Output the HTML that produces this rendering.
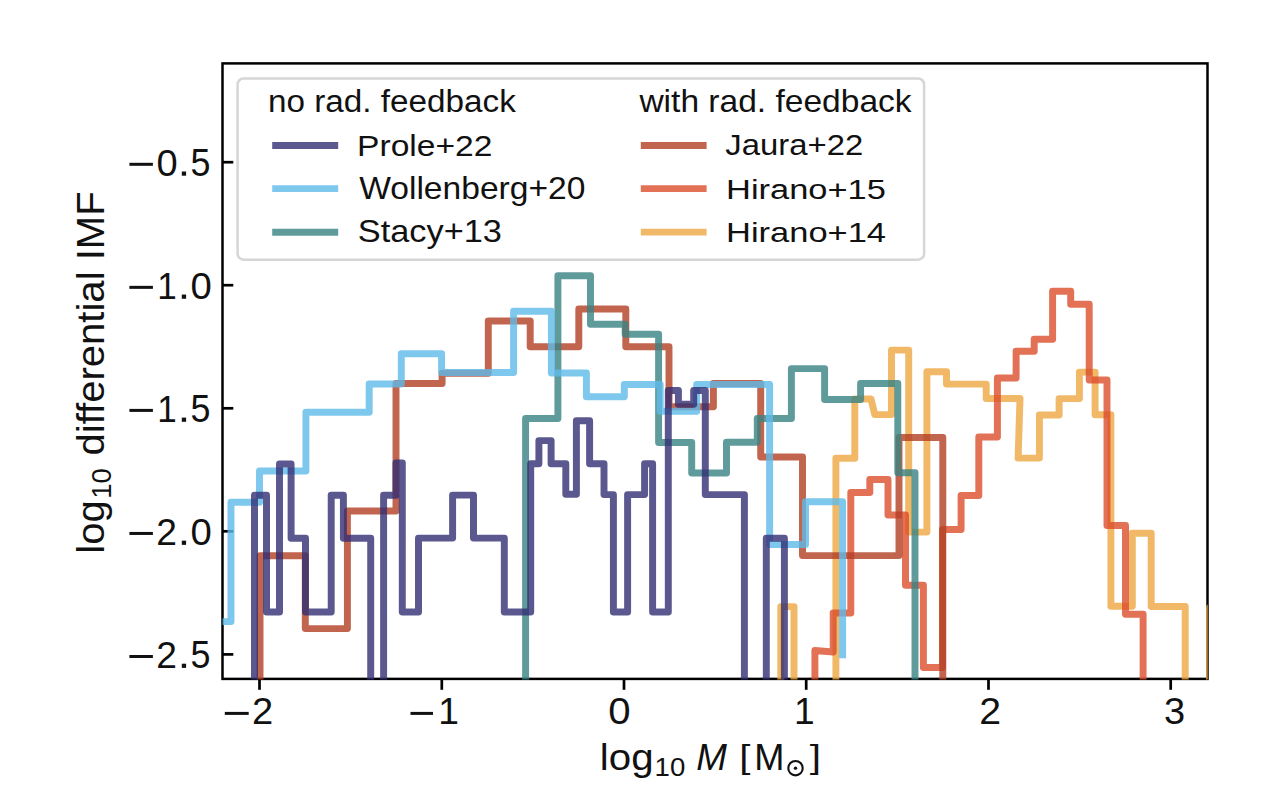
<!DOCTYPE html>
<html><head><meta charset="utf-8"><style>
html,body{margin:0;padding:0;background:#fff;}
svg{display:block;}
text{font-family:"Liberation Sans",sans-serif;fill:#111;}
</style></head><body>
<svg width="1276" height="812" viewBox="0 0 1276 812">
<defs><clipPath id="ax"><rect x="222.5" y="63.4" width="985.30" height="616.10"/></clipPath></defs>
<rect x="0" y="0" width="1276" height="812" fill="#fff"/>
<rect x="222.5" y="63.4" width="985.0" height="615.5" fill="none" stroke="#000" stroke-width="2.5"/>
<line x1="259.5" y1="678.9" x2="259.5" y2="689.8" stroke="#000" stroke-width="2.7"/>
<line x1="441.8" y1="678.9" x2="441.8" y2="689.8" stroke="#000" stroke-width="2.7"/>
<line x1="624.0" y1="678.9" x2="624.0" y2="689.8" stroke="#000" stroke-width="2.7"/>
<line x1="806.2" y1="678.9" x2="806.2" y2="689.8" stroke="#000" stroke-width="2.7"/>
<line x1="988.5" y1="678.9" x2="988.5" y2="689.8" stroke="#000" stroke-width="2.7"/>
<line x1="1170.7" y1="678.9" x2="1170.7" y2="689.8" stroke="#000" stroke-width="2.7"/>
<line x1="222.5" y1="162.2" x2="233.3" y2="162.2" stroke="#000" stroke-width="2.7"/>
<line x1="222.5" y1="285.2" x2="233.3" y2="285.2" stroke="#000" stroke-width="2.7"/>
<line x1="222.5" y1="408.3" x2="233.3" y2="408.3" stroke="#000" stroke-width="2.7"/>
<line x1="222.5" y1="531.3" x2="233.3" y2="531.3" stroke="#000" stroke-width="2.7"/>
<line x1="222.5" y1="654.4" x2="233.3" y2="654.4" stroke="#000" stroke-width="2.7"/>
<g clip-path="url(#ax)">
<path d="M780.8 700.0 L780.8 606.6 L794.0 606.6 L794.0 700.0 L835.9 700.0 L835.9 458.3 L854.8 458.3 L854.8 398.9 L871.0 398.9 L874.8 414.6 L891.5 414.6 L891.5 350.1 L908.7 350.1 L908.7 532.1 L926.9 532.1 L926.9 371.7 L946.5 371.7 L946.5 384.1 L986.2 384.1 L986.2 398.4 L1020.0 398.4 L1018.1 458.1 L1039.4 458.1 L1039.4 415.0 L1059.1 415.0 L1059.1 398.6 L1079.4 398.6 L1079.4 372.1 L1095.1 372.1 L1095.1 414.8 L1110.9 414.8 L1110.9 606.2 L1132.3 606.2 L1132.3 533.2 L1151.2 533.2 L1151.2 606.5 L1185.2 606.5 L1185.2 700.0 L1209.5 700.0 L1209.5 607.5 L1230.0 607.5" fill="none" stroke="#eea642" stroke-opacity="0.8" stroke-width="6.95" stroke-linejoin="round" stroke-linecap="butt"/>
<path d="M814.9 700.0 L814.9 650.5 L833.2 652.0 L833.2 613.0 L850.8 613.0 L850.8 492.4 L869.8 492.4 L869.8 479.5 L888.0 479.5 L888.0 515.0 L905.5 515.0 L905.5 585.2 L923.4 585.2 L923.4 667.4 L942.5 667.4 L942.5 529.4 L961.1 529.4 L961.1 495.5 L978.8 495.5 L978.8 436.9 L997.4 436.9 L997.4 378.0 L1016.1 378.0 L1016.1 351.3 L1034.2 351.3 L1034.2 339.3 L1052.6 339.3 L1052.6 291.2 L1070.7 291.2 L1070.7 304.2 L1089.2 304.2 L1089.2 380.0 L1107.0 380.0 L1107.0 525.5 L1125.5 525.5 L1125.5 614.3 L1143.1 614.3 L1143.1 700.0" fill="none" stroke="#dc4e2c" stroke-opacity="0.8" stroke-width="6.95" stroke-linejoin="round" stroke-linecap="butt"/>
<path d="M260.0 700.0 L260.0 555.7 L305.3 555.7 L305.3 628.6 L347.4 628.6 L347.4 510.9 L396.0 510.9 L396.0 383.5 L442.1 383.5 L442.1 373.3 L488.3 373.3 L488.3 320.9 L530.2 320.9 L530.2 346.8 L578.8 346.8 L578.8 308.9 L625.8 308.9 L625.8 346.8 L669.0 346.8 L669.0 406.8 L713.4 406.8 L713.4 383.5 L760.7 383.5 L760.7 457.0 L802.5 457.0 L802.5 555.6 L899.0 555.6 L899.0 437.5 L942.8 437.5 L942.8 700.0" fill="none" stroke="#b23f23" stroke-opacity="0.8" stroke-width="6.95" stroke-linejoin="round" stroke-linecap="butt"/>
<path d="M525.6 700.0 L525.6 418.5 L557.9 418.5 L557.9 275.7 L590.5 275.7 L590.5 324.2 L625.2 324.2 L625.2 334.2 L658.6 334.2 L658.6 442.4 L691.7 442.4 L691.7 473.0 L726.5 473.0 L726.5 442.2 L757.3 442.2 L757.3 418.5 L791.4 418.5 L791.4 368.6 L824.6 368.6 L824.6 399.4 L860.6 399.4 L860.6 383.4 L897.8 383.4 L897.8 472.8 L915.0 472.8 L915.0 700.0" fill="none" stroke="#388282" stroke-opacity="0.8" stroke-width="6.95" stroke-linejoin="round" stroke-linecap="butt"/>
<path d="M200.0 621.6 L231.0 621.6 L231.0 502.2 L259.5 502.2 L259.5 470.9 L305.9 470.9 L305.9 412.2 L369.2 412.2 L369.2 383.9 L401.3 383.9 L401.3 353.7 L441.6 353.7 L441.6 372.4 L513.6 372.4 L513.6 311.3 L551.4 311.3 L551.4 373.0 L586.4 373.0 L586.4 396.7 L624.3 396.7 L624.3 384.4 L660.2 384.4 L660.2 411.2 L696.7 411.2 L696.7 384.4 L769.6 384.4 L769.6 544.4 L805.5 544.4 L805.5 501.8 L842.6 501.8 L842.6 658.2" fill="none" stroke="#5ebaea" stroke-opacity="0.8" stroke-width="6.95" stroke-linejoin="round" stroke-linecap="butt"/>
<path d="M254.5 700.0 L254.5 495.2 L266.5 495.2 L266.5 612.0 L279.5 612.0 L279.5 463.9 L291.1 463.9 L291.1 538.3 L305.5 538.3 L305.5 612.0 L331.2 612.0 L331.2 495.2 L343.4 495.2 L343.4 538.3 L370.7 538.3 L370.7 700.0 L383.6 700.0 L383.6 495.2 L396.0 495.2 L396.0 463.0 L402.3 463.0 L402.3 612.0 L418.5 612.0 L418.5 538.1 L452.6 538.1 L452.6 495.1 L473.5 495.1 L473.5 538.1 L504.3 538.1 L504.3 612.0 L530.7 612.0 L530.7 463.7 L538.9 463.7 L538.9 440.6 L551.1 440.6 L551.1 463.7 L565.8 463.7 L565.8 494.2 L576.4 494.2 L576.4 420.7 L589.6 420.7 L589.6 463.7 L604.0 463.7 L604.0 494.6 L613.4 494.6 L613.4 612.0 L627.6 612.0 L627.6 494.6 L644.6 494.6 L644.6 463.7 L652.6 463.7 L652.6 612.0 L668.3 612.0 L668.3 390.5 L678.4 390.5 L678.4 404.3 L693.7 404.3 L693.7 390.5 L705.3 390.5 L705.3 494.6 L744.4 494.6 L744.4 700.0 L766.3 700.0 L766.3 538.3 L784.4 538.3 L784.4 700.0" fill="none" stroke="#322e73" stroke-opacity="0.8" stroke-width="6.95" stroke-linejoin="round" stroke-linecap="butt"/>
</g>
<rect x="237.6" y="78.5" width="686.5" height="181.2" rx="6" ry="6" fill="#fff" fill-opacity="0.8" stroke="#d6d6d6" stroke-width="2.5"/>
<line x1="272.2" y1="145.4" x2="338.2" y2="145.4" stroke="#322e73" stroke-opacity="0.8" stroke-width="6.95"/>
<line x1="272.2" y1="188.6" x2="338.2" y2="188.6" stroke="#5ebaea" stroke-opacity="0.8" stroke-width="6.95"/>
<line x1="272.2" y1="232.3" x2="338.2" y2="232.3" stroke="#388282" stroke-opacity="0.8" stroke-width="6.95"/>
<line x1="640.8" y1="145.4" x2="706.6" y2="145.4" stroke="#b23f23" stroke-opacity="0.8" stroke-width="6.95"/>
<line x1="640.8" y1="188.6" x2="706.6" y2="188.6" stroke="#dc4e2c" stroke-opacity="0.8" stroke-width="6.95"/>
<line x1="640.8" y1="232.1" x2="706.6" y2="232.1" stroke="#eea642" stroke-opacity="0.8" stroke-width="6.95"/>
<g transform="matrix(1.00290 0 0 0.98491 251.994 723.900)"><text x="0" y="0" font-size="38" >2</text></g>
<g transform="matrix(0.97846 0 0 0.98462 438.165 723.900)"><text x="0" y="0" font-size="38" >1</text></g>
<g transform="matrix(1.05753 0 0 0.98491 608.214 723.900)"><text x="0" y="0" font-size="38" >0</text></g>
<g transform="matrix(0.97846 0 0 0.98462 794.065 723.900)"><text x="0" y="0" font-size="38" >1</text></g>
<g transform="matrix(1.03188 0 0 0.98491 979.136 723.900)"><text x="0" y="0" font-size="38" >2</text></g>
<g transform="matrix(1.00000 0 0 0.98491 1164.000 723.900)"><text x="0" y="0" font-size="38" >3</text></g>
<g transform="matrix(1.00274 0 0 0.98868 156.596 175.700)"><text x="0" y="0" font-size="38" >0</text></g>
<g transform="matrix(0.94444 0 0 1.00769 190.483 175.700)"><text x="0" y="0" font-size="38" >5</text></g>
<g transform="matrix(0.92308 0 0 0.99231 157.231 298.750)"><text x="0" y="0" font-size="38" >1</text></g>
<g transform="matrix(1.00822 0 0 0.98868 190.388 298.750)"><text x="0" y="0" font-size="38" >0</text></g>
<g transform="matrix(0.92308 0 0 0.99231 157.231 421.800)"><text x="0" y="0" font-size="38" >1</text></g>
<g transform="matrix(0.94444 0 0 1.00769 190.483 421.800)"><text x="0" y="0" font-size="38" >5</text></g>
<g transform="matrix(0.97971 0 0 0.98868 156.141 544.850)"><text x="0" y="0" font-size="38" >2</text></g>
<g transform="matrix(1.00822 0 0 0.98868 190.388 544.850)"><text x="0" y="0" font-size="38" >0</text></g>
<g transform="matrix(0.97971 0 0 0.98868 156.141 667.900)"><text x="0" y="0" font-size="38" >2</text></g>
<g transform="matrix(0.94444 0 0 1.00769 190.483 667.900)"><text x="0" y="0" font-size="38" >5</text></g>
<g transform="matrix(1.07336 0 0 1.00889 268.053 112.200)"><text x="0" y="0" font-size="31" >no rad. feedback</text></g>
<g transform="matrix(1.08406 0 0 0.95556 357.090 156.300)"><text x="0" y="0" font-size="31" >Prole+22</text></g>
<g transform="matrix(1.08420 0 0 0.98667 359.129 199.100)"><text x="0" y="0" font-size="31" >Wollenberg+20</text></g>
<g transform="matrix(1.10884 0 0 1.00465 357.737 241.600)"><text x="0" y="0" font-size="31" >Stacy+13</text></g>
<g transform="matrix(1.08270 0 0 0.99111 639.400 111.700)"><text x="0" y="0" font-size="31" >with rad. feedback</text></g>
<g transform="matrix(1.06016 0 0 0.92558 725.370 155.200)"><text x="0" y="0" font-size="31" >Jaura+22</text></g>
<g transform="matrix(1.11143 0 0 0.88444 726.021 198.700)"><text x="0" y="0" font-size="31" >Hirano+15</text></g>
<g transform="matrix(1.11246 0 0 0.92000 726.019 241.800)"><text x="0" y="0" font-size="31" >Hirano+14</text></g>
<g transform="matrix(1.06011 0 0 0.97091 599.850 770.000)"><text x="0" y="0" font-size="38" >log</text></g>
<g transform="matrix(1.02222 0 0 0.93867 654.556 775.600)"><text x="0" y="0" font-size="27" >10</text></g>
<g transform="matrix(0.96860 0 0 0.95769 696.289 769.600)"><text x="0" y="0" font-size="38" font-style="italic">M</text></g>
<g transform="matrix(1.05333 0 0 0.88227 739.203 767.662)"><text x="0" y="0" font-size="38" >[</text></g>
<g transform="matrix(0.95294 0 0 0.95769 754.241 769.600)"><text x="0" y="0" font-size="38" >M</text></g>
<g transform="matrix(1.06667 0 0 0.88227 809.833 767.662)"><text x="0" y="0" font-size="38" >]</text></g>
<g transform="matrix(0 -1.05355 1.01091 0 104.000 553.634)"><text x="0" y="0" font-size="38" >log</text></g>
<g transform="matrix(0 -1.02222 1.05600 0 110.700 498.744)"><text x="0" y="0" font-size="27" >10</text></g>
<g transform="matrix(0 -1.05388 1.02182 0 103.900 455.481)"><text x="0" y="0" font-size="38" >differential IMF</text></g>
<rect x="224.80" y="711.90" width="23.90" height="3.00" fill="#111"/>
<rect x="410.50" y="711.90" width="22.50" height="3.00" fill="#111"/>
<rect x="129.40" y="162.80" width="23.50" height="3.00" fill="#111"/>
<rect x="181.80" y="171.50" width="4.30" height="4.20" fill="#111"/>
<rect x="129.40" y="285.85" width="23.50" height="3.00" fill="#111"/>
<rect x="181.80" y="294.55" width="4.30" height="4.20" fill="#111"/>
<rect x="129.40" y="408.90" width="23.50" height="3.00" fill="#111"/>
<rect x="181.80" y="417.60" width="4.30" height="4.20" fill="#111"/>
<rect x="129.40" y="531.95" width="23.50" height="3.00" fill="#111"/>
<rect x="181.80" y="540.65" width="4.30" height="4.20" fill="#111"/>
<rect x="129.40" y="655.00" width="23.50" height="3.00" fill="#111"/>
<rect x="181.80" y="663.70" width="4.30" height="4.20" fill="#111"/>
<circle cx="795.5" cy="768.15" r="7.2" fill="none" stroke="#111" stroke-width="2.1"/><circle cx="795.5" cy="768.15" r="1.7" fill="#111"/>
</svg>
</body></html>
